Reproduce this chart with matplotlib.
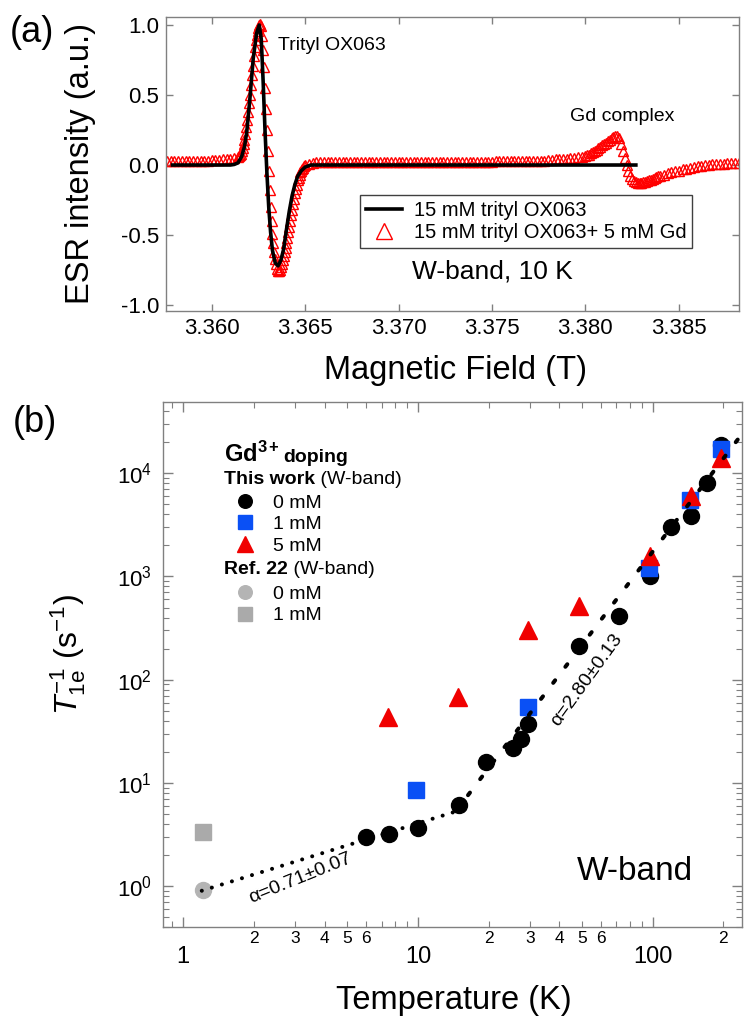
import numpy as np
import matplotlib
matplotlib.use('Agg')
import matplotlib.pyplot as plt
from matplotlib.ticker import LogLocator, FuncFormatter, NullFormatter, FormatStrFormatter, LogFormatterMathtext

plt.rcParams['font.family'] = ['Liberation Sans', 'DejaVu Sans']
plt.rcParams['mathtext.fontset'] = 'custom'
plt.rcParams['mathtext.rm'] = 'Liberation Sans'
plt.rcParams['mathtext.it'] = 'Liberation Sans:italic'
plt.rcParams['mathtext.bf'] = 'Liberation Sans:bold'
plt.rcParams['axes.unicode_minus'] = False

# ---- panel (a): ESR spectra ----
# 15 mM trityl + 5 mM Gd (red triangles), in segments
red_field_1 = [3.3576, 3.3578, 3.3580, 3.3582, 3.3584, 3.3586, 3.3588, 3.3590, 3.3592, 3.3594,
               3.3596, 3.3598, 3.3600, 3.3602, 3.3604, 3.3606, 3.3608, 3.3610, 3.3612]
red_int_1 = [0.03, 0.03, 0.03, 0.03, 0.03, 0.03, 0.03, 0.03, 0.03, 0.03,
             0.03, 0.03, 0.035, 0.035, 0.035, 0.04, 0.04, 0.045, 0.05]

red_field_2 = [3.36140, 3.36145, 3.36150, 3.36155, 3.36160, 3.36165, 3.36170, 3.36175, 3.36180, 3.36185,
               3.36190, 3.36195, 3.36200, 3.36205, 3.36210, 3.36215, 3.36220, 3.36225, 3.36230, 3.36235,
               3.36240, 3.36245, 3.36250, 3.36255, 3.36260, 3.36265, 3.36270, 3.36275, 3.36280, 3.36285,
               3.36290, 3.36295, 3.36300, 3.36305, 3.36310, 3.36315, 3.36320, 3.36325, 3.36330, 3.36335,
               3.36340, 3.36345, 3.36350, 3.36355, 3.36360, 3.36365, 3.36370, 3.36375, 3.36380, 3.36385,
               3.36390, 3.36395, 3.36400, 3.36405, 3.36410, 3.36415, 3.36420, 3.36425, 3.36430, 3.36435,
               3.36440, 3.36445, 3.36450, 3.36455, 3.36460, 3.36465, 3.36470, 3.36475, 3.36480, 3.36485,
               3.36490, 3.36495, 3.36500]
red_int_2 = [0.06, 0.065, 0.07, 0.08, 0.10, 0.12, 0.15, 0.18, 0.22, 0.27,
             0.32, 0.38, 0.44, 0.50, 0.57, 0.64, 0.71, 0.78, 0.84, 0.89,
             0.93, 0.96, 0.98, 1.00, 1.01, 0.99, 0.92, 0.82, 0.70, 0.55,
             0.40, 0.25, 0.10, -0.04, -0.18, -0.30, -0.40, -0.49, -0.56, -0.62,
             -0.67, -0.71, -0.74, -0.76, -0.76, -0.75, -0.73, -0.71, -0.68, -0.65,
             -0.62, -0.59, -0.56, -0.52, -0.48, -0.44, -0.40, -0.36, -0.32, -0.28,
             -0.24, -0.20, -0.17, -0.14, -0.11, -0.09, -0.07, -0.05, -0.04, -0.03,
             -0.02, -0.01, 0.00]

red_field_3 = [3.3652, 3.3654, 3.3656, 3.3658, 3.3660, 3.3662, 3.3664, 3.3666, 3.3668, 3.3670,
               3.3672, 3.3674, 3.3676, 3.3678, 3.3680, 3.3682, 3.3684, 3.3686, 3.3688, 3.3690,
               3.3692, 3.3694, 3.3696, 3.3698, 3.3700, 3.3702, 3.3704, 3.3706, 3.3708, 3.3710,
               3.3712, 3.3714, 3.3716, 3.3718, 3.3720, 3.3722, 3.3724, 3.3726, 3.3728, 3.3730,
               3.3732, 3.3734, 3.3736, 3.3738, 3.3740, 3.3742, 3.3744, 3.3746, 3.3748, 3.3750,
               3.3752, 3.3754, 3.3756, 3.3758, 3.3760, 3.3762, 3.3764, 3.3766, 3.3768, 3.3770,
               3.3772, 3.3774, 3.3776, 3.3778, 3.3780, 3.3782, 3.3784, 3.3786, 3.3788, 3.3790,
               3.3792, 3.3794, 3.3796, 3.3798]
red_int_3 = [0.01, 0.015, 0.02, 0.02, 0.02, 0.02, 0.02, 0.02, 0.02, 0.02,
             0.02, 0.02, 0.02, 0.02, 0.02, 0.02, 0.02, 0.02, 0.02, 0.02,
             0.02, 0.02, 0.02, 0.02, 0.02, 0.025, 0.025, 0.025, 0.025, 0.025,
             0.025, 0.025, 0.025, 0.025, 0.025, 0.025, 0.025, 0.025, 0.025, 0.025,
             0.025, 0.025, 0.025, 0.025, 0.025, 0.025, 0.025, 0.025, 0.025, 0.025,
             0.03, 0.03, 0.03, 0.03, 0.03, 0.03, 0.03, 0.03, 0.03, 0.03,
             0.03, 0.03, 0.03, 0.03, 0.035, 0.035, 0.04, 0.04, 0.045, 0.045,
             0.05, 0.05, 0.055, 0.06]

red_field_4 = [3.3800, 3.3801, 3.3802, 3.3803, 3.3804, 3.3805, 3.3806, 3.3807, 3.3808, 3.3809,
               3.3810, 3.3811, 3.3812, 3.3813, 3.3814, 3.3815, 3.3816, 3.3817, 3.3818, 3.3819,
               3.3820, 3.3821, 3.3822, 3.3823, 3.3824, 3.3825, 3.3826, 3.3827, 3.3828, 3.3829,
               3.3830, 3.3831, 3.3832, 3.3833, 3.3834, 3.3835, 3.3836, 3.3837, 3.3838, 3.3839,
               3.3840]
red_int_4 = [0.065, 0.07, 0.075, 0.085, 0.09, 0.10, 0.11, 0.12, 0.13, 0.14,
             0.15, 0.16, 0.17, 0.18, 0.19, 0.20, 0.205, 0.205, 0.19, 0.15,
             0.10, 0.05, 0.00, -0.04, -0.075, -0.10, -0.115, -0.12, -0.125, -0.125,
             -0.125, -0.12, -0.12, -0.115, -0.11, -0.105, -0.10, -0.09, -0.085, -0.08,
             -0.075]

red_field_5 = [3.3842, 3.3844, 3.3846, 3.3848, 3.3850, 3.3852, 3.3854, 3.3856, 3.3858, 3.3860,
               3.3862, 3.3864, 3.3866, 3.3868, 3.3870, 3.3872, 3.3874, 3.3876, 3.3878, 3.3880,
               3.3882]
red_int_5 = [-0.07, -0.06, -0.05, -0.045, -0.04, -0.03, -0.025, -0.02, -0.015, -0.01,
             -0.005, 0.0, 0.0, 0.005, 0.005, 0.01, 0.01, 0.015, 0.015, 0.015,
             0.015]

# 15 mM trityl only (black line)
black_field = [3.3579, 3.3600, 3.3610, 3.3612, 3.3614, 3.3616, 3.36175, 3.36187, 3.36204, 3.36222,
               3.36240, 3.36254, 3.36265, 3.36275, 3.36285, 3.36295, 3.36305, 3.36315, 3.36325, 3.36340,
               3.36355, 3.36370, 3.36385, 3.36400, 3.36415, 3.36430, 3.36445, 3.36460, 3.36480, 3.36500,
               3.36530, 3.3700, 3.3750, 3.3800, 3.3827]
black_int = [0.0, 0.0, 0.0, 0.004, 0.015, 0.06, 0.13, 0.23, 0.47, 0.76,
             0.94, 1.00, 0.90, 0.60, 0.25, -0.05, -0.30, -0.48, -0.61, -0.70,
             -0.72, -0.68, -0.60, -0.46, -0.33, -0.22, -0.14, -0.08, -0.04, -0.015,
             0.0, 0.0, 0.0, 0.0, 0.0]

# ---- panel (b): T1e^-1 vs temperature ----
T_0mM = [6.0, 7.5, 10, 15, 19.5, 25.5, 27.5, 29.5, 48.5, 71.5, 97, 120, 145, 170, 195]
R_0mM = [2.99, 3.18, 3.61, 6.07, 16, 21.6, 26.4, 37.5, 213, 415, 1000, 3020, 3830, 8070, 18800]
T_1mM = [9.8, 29.5, 96.5, 144, 195]
R_1mM = [8.5, 54.7, 1208, 5470, 17300]
T_5mM = [7.45, 14.8, 29.3, 48.5, 97.4, 145, 195]
R_5mM = [43.7, 68, 304, 512, 1563, 5980, 14000]
T_ref_0mM = [1.21]
R_ref_0mM = [0.91]
T_ref_1mM = [1.21]
R_ref_1mM = [3.35]

# power-law guide lines (amplitude, exponent, T range) as drawn
fit_low = (0.79, 0.71, 1.2, 15.0)
fit_high = (1.74e-3, 3.0, 14.5, 235.0)

red_field = red_field_1 + red_field_2 + red_field_3 + red_field_4 + red_field_5
red_int = red_int_1 + red_int_2 + red_int_3 + red_int_4 + red_int_5

fig = plt.figure(figsize=(7.51, 10.28), dpi=100)
ax1 = fig.add_axes([0.221, 0.6978, 0.763, 0.2854])
ax2 = fig.add_axes([0.217, 0.0982, 0.771, 0.5107])

spine_col = '#808080'

# panel (a)
tri, = ax1.plot(red_field, red_int, ls='none', marker='^', ms=6.5, mfc='none', mec='red',
                mew=1.0, zorder=2, label='15 mM trityl OX063+ 5 mM Gd')
line, = ax1.plot(black_field, black_int, color='black', lw=2.6, zorder=3,
                 label='15 mM trityl OX063')
leg = ax1.legend(handles=[line, tri], loc='upper left', bbox_to_anchor=(0.339, 0.394),
                 fontsize=14.5, frameon=True, fancybox=False, edgecolor='#404040', framealpha=1,
                 borderpad=0.3, labelspacing=0.15, handlelength=1.75, handletextpad=0.6,
                 markerscale=1.8, borderaxespad=0)
leg.get_frame().set_linewidth(1.0)

ax1.text(3.36354, 0.85, 'Trityl OX063', fontsize=14, va='center', ha='left')
ax1.text(3.37917, 0.35, 'Gd complex', fontsize=14, va='center', ha='left')
ax1.text(3.37072, -0.757, 'W-band, 10 K', fontsize=19, va='center', ha='left')

ax1.set_xlim(3.35755, 3.38822)
ax1.set_ylim(-1.04, 1.055)
ax1.set_xticks([3.360, 3.365, 3.370, 3.375, 3.380, 3.385])
ax1.set_yticks([-1.0, -0.5, 0.0, 0.5, 1.0])
ax1.xaxis.set_major_formatter(FormatStrFormatter('%.3f'))
ax1.yaxis.set_major_formatter(FormatStrFormatter('%.1f'))
ax1.tick_params(direction='in', top=True, right=True, length=5, width=1, color=spine_col,
                labelsize=16, pad=5)
ax1.set_xlabel('Magnetic Field (T)', fontsize=23.5)
ax1.set_ylabel('ESR intensity (a.u.)', fontsize=23.5)
ax1.xaxis.set_label_coords(0.506, -0.151)
ax1.yaxis.set_label_coords(-0.122, 0.5)

# panel (b)
ax2.set_xscale('log')
ax2.set_yscale('log')

g0, = ax2.plot(T_ref_0mM, R_ref_0mM, 'o', color='#b4b4b4', ms=11.5, ls='none', zorder=2, label='0 mM')
g1, = ax2.plot(T_ref_1mM, R_ref_1mM, 's', color='#aaaaaa', ms=11.5, ls='none', zorder=2, label='1 mM')
h0, = ax2.plot(T_0mM, R_0mM, 'o', color='black', ms=11.5, ls='none', zorder=3, label='0 mM')
h1, = ax2.plot(T_1mM, R_1mM, 's', color='#0a50f5', ms=11.5, ls='none', zorder=4, label='1 mM')
h5, = ax2.plot(T_5mM, R_5mM, '^', color='#f00000', ms=13, ls='none', zorder=5, label='5 mM')

amp, alpha, tmin, tmax = fit_low
t = np.geomspace(tmin, tmax, 60)
ax2.plot(t, amp * t ** alpha, color='black', lw=2.9, ls=(0, (0.01, 2.6)),
         dash_capstyle='round', zorder=6)
amp, alpha, tmin, tmax = fit_high
t = np.geomspace(tmin, tmax, 60)
ax2.plot(t, amp * t ** alpha, color='black', lw=2.9, ls=(0, (0.8, 4.2)),
         dash_capstyle='round', zorder=6)

ax2.text(3.15, 1.19, 'α=0.71±0.07', rotation=22, rotation_mode='anchor',
         ha='center', va='center', fontsize=14)
ax2.text(52.4, 99, 'α=2.80±0.13', rotation=54, rotation_mode='anchor',
         ha='center', va='center', fontsize=14)
ax2.text(0.715, 0.105, 'W-band', transform=ax2.transAxes, fontsize=24, va='center')

# legend block: headers as text, entries as two legends
gd = ax2.text(0.105, 0.886, r'$\mathbf{Gd}^{\mathbf{3+}}$', transform=ax2.transAxes,
              fontsize=17, va='baseline')
ax2.text(0.207, 0.886, 'doping', transform=ax2.transAxes, fontsize=14,
         fontweight='bold', va='baseline')
tw = ax2.text(0.105, 0.853, 'This work', transform=ax2.transAxes, fontsize=14,
              fontweight='bold', va='center')
ax2.annotate(' (W-band)', xy=(1, 0), xycoords=tw, fontsize=14, va='bottom', ha='left')
rf = ax2.text(0.105, 0.682, 'Ref. 22', transform=ax2.transAxes, fontsize=14,
              fontweight='bold', va='center')
ax2.annotate(' (W-band)', xy=(1, 0), xycoords=rf, fontsize=14, va='bottom', ha='left')

leg_opts = dict(loc='upper left', frameon=False, fontsize=14, handlelength=1.0,
                handletextpad=0.93, labelspacing=0.2, borderpad=0, borderaxespad=0,
                markerscale=0.85, numpoints=1)
leg1 = ax2.legend(handles=[h0, h1, h5], bbox_to_anchor=(0.125, 0.825), **leg_opts)
ax2.add_artist(leg1)
ax2.legend(handles=[g0, g1], bbox_to_anchor=(0.125, 0.651), **leg_opts)

ax2.set_xlim(0.82, 240)
ax2.set_ylim(0.4, 4.9e4)


def minor_label(v, pos):
    d = int(round(v / 10 ** np.floor(np.log10(v))))
    return str(d) if 2 <= d <= 6 else ''


ax2.xaxis.set_major_locator(LogLocator(base=10, numticks=10))
ax2.xaxis.set_major_formatter(FuncFormatter(lambda v, p: '%g' % v))
ax2.xaxis.set_minor_locator(LogLocator(base=10, subs=np.arange(2, 10), numticks=10))
ax2.xaxis.set_minor_formatter(FuncFormatter(minor_label))
ax2.yaxis.set_major_locator(LogLocator(base=10, numticks=10))
ax2.yaxis.set_major_formatter(LogFormatterMathtext())
ax2.yaxis.set_minor_locator(LogLocator(base=10, subs=np.arange(2, 10), numticks=10))
ax2.yaxis.set_minor_formatter(NullFormatter())

ax2.tick_params(which='both', direction='in', top=True, right=True, color=spine_col)
ax2.tick_params(which='major', length=7, width=1)
ax2.tick_params(which='minor', length=4, width=0.8)
ax2.tick_params(axis='x', which='major', labelsize=17, pad=14)
ax2.tick_params(axis='x', which='minor', labelsize=12.5, pad=3)
ax2.tick_params(axis='y', which='major', labelsize=16, pad=8)

ax2.set_xlabel('Temperature (K)', fontsize=23.5)
ax2.set_ylabel(r'$T_{\rm 1e}^{-1}$ (s$^{-1}$)', fontsize=23)
ax2.xaxis.set_label_coords(0.503, -0.110)
ax2.yaxis.set_label_coords(-0.13, 0.52)

for ax in (ax1, ax2):
    for s in ax.spines.values():
        s.set_color(spine_col)
        s.set_linewidth(1.0)

fig.text(0.013, 1 - 32 / 1028, '(a)', fontsize=26, va='center')
fig.text(0.017, 1 - 423 / 1028, '(b)', fontsize=26, va='center')

fig.savefig('out.png', dpi=100)
